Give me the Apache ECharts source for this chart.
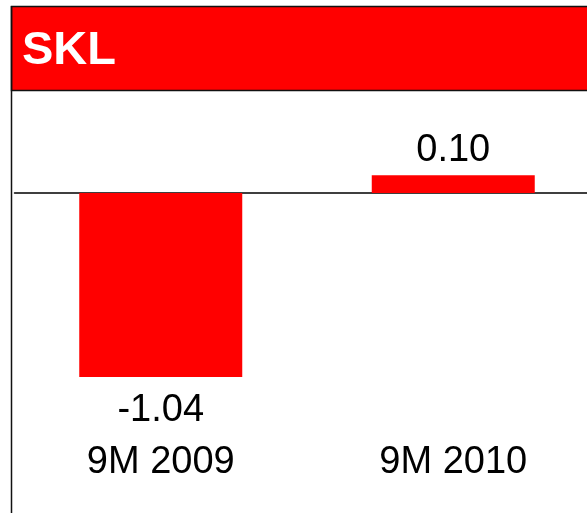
<!DOCTYPE html>
<html>
<head>
<meta charset="utf-8">
<script src="https://cdn.jsdelivr.net/npm/echarts@6/dist/echarts.min.js"></script>
<style>
  html, body { margin: 0; padding: 0; background: #fff; }
  #chart { width: 587px; height: 513px; }
</style>
</head>
<body>
<div id="chart"></div>
<script>
var categories = ['9M 2009', '9M 2010']
var values = [-1.04, 0.10]
var titleText = 'SKL'

var font = '"Liberation Sans", Arial, Helvetica, sans-serif'

var chart = echarts.init(document.getElementById('chart'))
chart.setOption({
  animation: false,
  title: {
    text: titleText,
    left: 22,
    top: 28,
    padding: 0,
    textStyle: { color: '#fff', fontSize: 47, fontWeight: 'bold', fontFamily: font }
  },
  graphic: [
    {
      type: 'rect',
      z: -1,
      shape: { x: 11.5, y: 6.5, width: 600, height: 84 },
      style: { fill: '#ff0000', stroke: '#111', lineWidth: 1.5 }
    },
    {
      type: 'line',
      shape: { x1: 11.5, y1: 6, x2: 11.5, y2: 513 },
      style: { stroke: '#111', lineWidth: 1.5 }
    }
  ],
  grid: { left: 14.5, width: 585, top: 104.5, height: 300.8, outerBoundsMode: 'none', containLabel: false },
  xAxis: [
    {
      type: 'category',
      data: categories,
      position: 'bottom',
      axisLine: { onZero: true, lineStyle: { color: '#000', width: 1.5 } },
      axisTick: { show: false },
      axisLabel: { show: false }
    },
    {
      type: 'category',
      data: categories,
      position: 'bottom',
      axisLine: { show: false, onZero: false },
      axisTick: { show: false },
      axisLabel: { margin: 38, color: '#000', fontSize: 38, fontFamily: font }
    }
  ],
  yAxis: {
    type: 'value',
    min: -1.2,
    max: 0.5,
    show: false,
    splitLine: { show: false }
  },
  series: [
    {
      type: 'bar',
      xAxisIndex: 0,
      barWidth: 163,
      itemStyle: { color: '#ff0000' },
      label: {
        show: true,
        color: '#000',
        fontSize: 38,
        fontFamily: font,
        formatter: function (p) { return p.value.toFixed(2) },
        position: 'top',
        distance: 6
      },
      // negative bar gets its label below
      data: values.map(function (v) {
        return v < 0
          ? { value: v, label: { position: 'bottom', distance: 15 } }
          : { value: v }
      })
    }
  ]
})
</script>
</body>
</html>
